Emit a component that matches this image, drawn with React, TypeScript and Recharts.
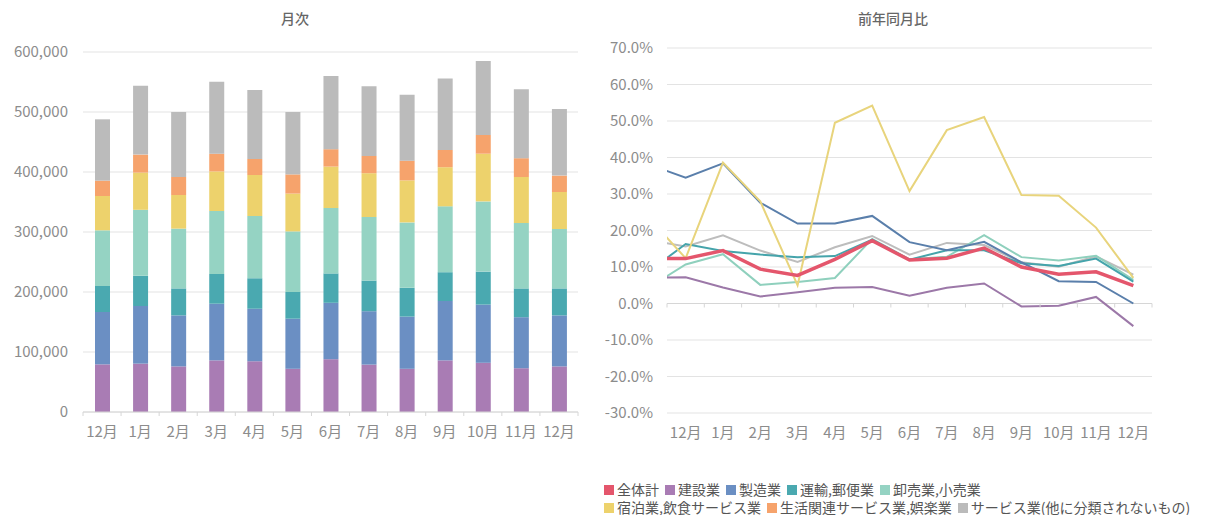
import React from 'react';
import { BarChart, Bar, LineChart, Line, XAxis, YAxis, CartesianGrid, ReferenceLine } from 'recharts';

// ---------- data ----------
const months = ['12月', '1月', '2月', '3月', '4月', '5月', '6月', '7月', '8月', '9月', '10月', '11月', '12月'];

// monthly amounts (stacked bars)
const barConstruction = [79400, 80600, 76000, 86000, 84400, 72000, 88000, 79000, 72000, 86000, 82000, 73000, 76000];
const barManufacturing = [87300, 96100, 85000, 94500, 87600, 83500, 94000, 89000, 87000, 99000, 97000, 85000, 85000];
const barTransport = [43300, 50300, 45000, 49500, 51000, 44500, 49000, 51000, 48000, 48000, 55000, 48000, 45000];
const barWholesale = [92800, 110000, 99600, 105000, 103700, 101000, 109000, 106000, 109000, 109800, 117000, 109000, 99000];
const barHospitality = [57200, 62000, 56100, 66000, 68300, 63000, 69000, 73000, 70000, 65200, 79500, 76700, 61700];
const barLiving = [25600, 30000, 30000, 29500, 26700, 32000, 29000, 28700, 32900, 28700, 31200, 31300, 27300];
const barServices = [102200, 114900, 108300, 120100, 115000, 104000, 122000, 116100, 110000, 119300, 123300, 114800, 111000];

// year-over-year (%). First value = previous month (off the left edge, clipped)
const lineMonths = ['11月', '12月', '1月', '2月', '3月', '4月', '5月', '6月', '7月', '8月', '9月', '10月', '11月', '12月'];
const yoyTotal = [12.3, 12.3, 14.5, 9.4, 7.7, 12.1, 17.2, 11.9, 12.4, 15.2, 10.0, 8.0, 8.7, 4.9];
const yoyConstruction = [7.0, 7.2, 4.4, 1.9, 3.1, 4.3, 4.5, 2.1, 4.3, 5.5, -0.8, -0.6, 1.8, -6.2];
const yoyManufacturing = [38.1, 34.5, 38.4, 27.6, 21.9, 21.9, 24.0, 16.8, 14.6, 16.9, 11.3, 6.1, 5.9, 0.0];
const yoyTransport = [8.7, 16.3, 14.4, 13.4, 12.7, 13.0, 17.5, 12.0, 14.6, 14.6, 11.0, 10.3, 12.3, 6.0];
const yoyWholesale = [4.3, 10.7, 13.5, 5.1, 5.9, 7.0, 17.7, 12.1, 12.8, 18.7, 12.7, 11.8, 13.1, 6.5];
const yoyHospitality = [23.6, 12.4, 38.6, 28.0, 5.0, 49.5, 54.2, 30.8, 47.5, 51.1, 29.7, 29.5, 20.8, 7.0];
const yoyServices = [17.4, 15.6, 18.7, 14.5, 11.4, 15.4, 18.5, 13.4, 16.6, 16.0, 11.3, 10.1, 12.9, 7.9];

const leftTicks = [0, 100000, 200000, 300000, 400000, 500000, 600000];
const rightTicks = [-30, -20, -10, 0, 10, 20, 30, 40, 50, 60, 70];

// ---------- series config ----------
const barSeries = [
  { key: 'construction', values: barConstruction, color: '#a97cb4' },
  { key: 'manufacturing', values: barManufacturing, color: '#6b8fc3' },
  { key: 'transport', values: barTransport, color: '#4aa9b0' },
  { key: 'wholesale', values: barWholesale, color: '#95d3c3' },
  { key: 'hospitality', values: barHospitality, color: '#edd26c' },
  { key: 'living', values: barLiving, color: '#f6a36c' },
  { key: 'services', values: barServices, color: '#bbbbbb' },
];

const lineSeries = [
  { key: 'services', values: yoyServices, color: '#bdbdbd', width: 2 },
  { key: 'wholesale', values: yoyWholesale, color: '#8fd0bd', width: 2 },
  { key: 'transport', values: yoyTransport, color: '#45a4ab', width: 2 },
  { key: 'manufacturing', values: yoyManufacturing, color: '#5a7fab', width: 2 },
  { key: 'construction', values: yoyConstruction, color: '#9c78a8', width: 2 },
  { key: 'hospitality', values: yoyHospitality, color: '#e8d47c', width: 2 },
  { key: 'total', values: yoyTotal, color: '#e4566c', width: 3.5 },
];

const legendRows = [
  [
    { name: '全体計', color: '#e4566c' },
    { name: '建設業', color: '#a97cb4' },
    { name: '製造業', color: '#6b8fc3' },
    { name: '運輸,郵便業', color: '#4aa9b0' },
    { name: '卸売業,小売業', color: '#95d3c3' },
  ],
  [
    { name: '宿泊業,飲食サービス業', color: '#edd26c' },
    { name: '生活関連サービス業,娯楽業', color: '#f6a36c' },
    { name: 'サービス業(他に分類されないもの)', color: '#bbbbbb' },
  ],
];

const barData = months.map((m, i) => {
  const row: any = { month: m };
  barSeries.forEach((s) => { row[s.key] = s.values[i]; });
  return row;
});

const lineData = lineMonths.map((m, i) => {
  const row: any = { x: i - 1, month: m };
  lineSeries.forEach((s) => { row[s.key] = s.values[i]; });
  return row;
});

// ---------- layout constants ----------
const L_W = 600, L_H = 460, L_YW = 83, L_MR = 22;
const L_BAND = (L_W - L_YW - L_MR) / months.length;
const R_W = 609, R_H = 460, R_YW = 67, R_MR = 57, R_MT = 48, R_MB = 47;
const R_PLOT_H = R_H - R_MT - R_MB;
const R_BAND = (R_W - R_YW - R_MR) / months.length;
const R_ZERO_UP = R_PLOT_H * (0 - (-30)) / 100;

const axisColor = '#d6d6d6';
const gridColor = '#e3e3e3';
const tickColor = '#8c8c8c';
const font = '"Noto Sans CJK JP", "Noto Sans", sans-serif';
const TICK_FS = 15;

const LeftTick = (props: any) => {
  const { x, y, payload, index } = props;
  const half = L_BAND / 2;
  return (
    <g>
      <line x1={x - half} x2={x - half} y1={y} y2={y + 4} stroke={axisColor} />
      {index === months.length - 1 && <line x1={x + half} x2={x + half} y1={y} y2={y + 4} stroke={axisColor} />}
      <text x={x} y={y + 21} textAnchor="middle" dominantBaseline="middle" fill={tickColor} fontSize={TICK_FS}>{payload.value}</text>
    </g>
  );
};

const RightTick = (props: any) => {
  const { x, y, payload } = props;
  const idx = Math.round(payload.value + 0.5);
  const zy = y - R_ZERO_UP;
  return (
    <g>
      <line x1={x} x2={x} y1={zy} y2={zy + 4} stroke={axisColor} />
      {idx < months.length && (
        <text x={x + R_BAND / 2} y={y + 21} textAnchor="middle" dominantBaseline="middle" fill={tickColor} fontSize={TICK_FS}>{months[idx]}</text>
      )}
    </g>
  );
};

const boundaryTicks = months.map((_, i) => i - 0.5).concat([months.length - 0.5]);

export default function App() {
  return (
    <div style={{ position: 'absolute', left: 0, top: 0, width: 1209, height: 515, background: '#fff', fontFamily: font }}>
      <div style={{ position: 'absolute', left: 0, width: 590, top: 8, textAlign: 'center', fontSize: 14, color: '#666', fontWeight: 500 }}>月次</div>
      <div style={{ position: 'absolute', left: 600, width: 586, top: 8, textAlign: 'center', fontSize: 14, color: '#666', fontWeight: 500 }}>前年同月比</div>

      <div style={{ position: 'absolute', left: 0, top: 0 }}>
        <BarChart width={L_W} height={L_H} data={barData} margin={{ top: 52, right: L_MR, bottom: 18, left: 0 }} barSize={15}>
          <CartesianGrid vertical={false} stroke={gridColor} />
          <XAxis dataKey="month" height={30} interval={0} tickSize={0} tickMargin={0} tickLine={false} axisLine={{ stroke: axisColor }} tick={<LeftTick />} />
          <YAxis width={L_YW} domain={[0, 600000]} ticks={leftTicks} axisLine={false} tickLine={false} tickMargin={9}
            tick={{ fill: tickColor, fontSize: TICK_FS }} tickFormatter={(v: number) => v.toLocaleString('en-US')} />
          {barSeries.map((s) => (
            <Bar key={s.key} dataKey={s.key} stackId="a" fill={s.color} isAnimationActive={false} />
          ))}
        </BarChart>
      </div>

      <div style={{ position: 'absolute', left: 600, top: 0 }}>
        <LineChart width={R_W} height={R_H} data={lineData} margin={{ top: R_MT, right: R_MR, bottom: 17, left: 0 }}>
          <CartesianGrid vertical={false} stroke={gridColor} />
          <XAxis dataKey="x" type="number" domain={[-0.5, months.length - 0.5]} allowDataOverflow ticks={boundaryTicks} interval={0}
            height={30} tickSize={0} tickMargin={0} tickLine={false} axisLine={false} tick={<RightTick />} />
          <YAxis width={R_YW} domain={[-30, 70]} ticks={rightTicks} axisLine={false} tickLine={false} tickMargin={8}
            tick={{ fill: tickColor, fontSize: TICK_FS }} tickFormatter={(v: number) => v.toFixed(1) + '%'} />
          <ReferenceLine y={0} stroke={axisColor} />
          {lineSeries.map((s) => (
            <Line key={s.key} dataKey={s.key} type="linear" stroke={s.color} strokeWidth={s.width} dot={false} isAnimationActive={false} />
          ))}
        </LineChart>
      </div>

      <div style={{ position: 'absolute', left: 604, top: 480, fontSize: 14, lineHeight: '18px', color: '#555', whiteSpace: 'nowrap' }}>
        {legendRows.map((row, r) => (
          <div key={r}>
            {row.map((it) => (
              <span key={it.name} style={{ marginRight: 6 }}>
                <span style={{ display: 'inline-block', width: 10, height: 10, background: it.color, marginRight: 3 }} />
                {it.name}
              </span>
            ))}
          </div>
        ))}
      </div>
    </div>
  );
}
